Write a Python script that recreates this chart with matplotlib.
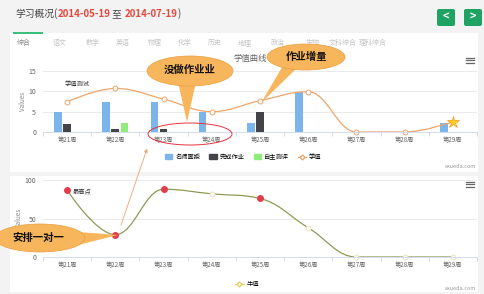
import numpy as np
import matplotlib
matplotlib.use("Agg")
import matplotlib.pyplot as plt
from matplotlib.patches import Rectangle, Ellipse, Polygon, FancyBboxPatch, PathPatch, FancyArrowPatch
from matplotlib.path import Path
from matplotlib.lines import Line2D

plt.rcParams['font.family'] = ['Noto Sans CJK SC', 'DejaVu Sans']

# data
weeks = ['第21周', '第22周', '第23周', '第24周', '第25周', '第26周', '第27周', '第28周', '第29周']
teach = [4.9, 7.4, 7.4, 5.0, 2.3, 9.8, 0, 0, 2.3]      # 名师面授
homework = [2.0, 0.7, 0.7, 0, 5.0, 0, 0, 0, 0]          # 完成作业
selftest = [0, 2.3, 0, 0, 0, 0, 0, 0, 0]                # 自主测评
score = [7.4, 10.7, 8.1, 5.0, 7.7, 9.9, 0, 0, 2.5]      # 学值
mastery = [87, 29, 88, 82, 76, 38, 0, 0, 0]             # 牛值
flagged = [True, True, True, False, True, False, False, False, False]
tabs = ['综合', '语文', '数学', '英语', '物理', '化学', '历史', '地理', '政治', '生物', '文科综合', '理科综合']
tab_x = [24, 60, 93, 123, 155, 185, 215, 245, 278, 313, 343, 373]

W, H = 485, 294


def spline_path(xs, ys):
    # highcharts style spline
    n = len(xs)
    sm, den = 1.5, 2.5
    lc = [None] * n
    rc = [None] * n
    for i in range(1, n - 1):
        px, py = xs[i], ys[i]
        lx, ly = xs[i - 1], ys[i - 1]
        nx, ny = xs[i + 1], ys[i + 1]
        lcx, lcy = (sm * px + lx) / den, (sm * py + ly) / den
        rcx, rcy = (sm * px + nx) / den, (sm * py + ny) / den
        corr = ((rcy - lcy) * (rcx - px)) / (rcx - lcx) + py - rcy
        lcy += corr
        rcy += corr
        if lcy > max(ly, py):
            lcy = max(ly, py); rcy = 2 * py - lcy
        elif lcy < min(ly, py):
            lcy = min(ly, py); rcy = 2 * py - lcy
        if rcy > max(py, ny):
            rcy = max(py, ny); lcy = 2 * py - rcy
        elif rcy < min(py, ny):
            rcy = min(py, ny); lcy = 2 * py - rcy
        lc[i] = (lcx, lcy)
        rc[i] = (rcx, rcy)
    rc[0] = (xs[0], ys[0])
    lc[-1] = (xs[-1], ys[-1])
    verts = [(xs[0], ys[0])]
    codes = [Path.MOVETO]
    for i in range(1, n):
        verts += [rc[i - 1], lc[i], (xs[i], ys[i])]
        codes += [Path.CURVE4] * 3
    return Path(verts, codes)


fig = plt.figure(figsize=(W / 100, H / 100), dpi=100)
fig.patch.set_facecolor('#f3f3f3')

# background layer in pixel coords
bg = fig.add_axes([0, 0, 1, 1], zorder=0)
bg.set_xlim(0, W); bg.set_ylim(H, 0); bg.axis('off')
bg.add_patch(Rectangle((10, 33), 468, 139, color='white', lw=0))
bg.add_patch(Rectangle((10, 176), 468, 116, color='white', lw=0))
bg.add_patch(Rectangle((13, 32), 30, 2, color='#3cbf7c', lw=0))
for t, x in zip(tabs, tab_x):
    bg.text(x, 43, t, ha='center', va='center', fontsize=5,
            color='#888888' if t == '综合' else '#c4c4c4')

# header
x0 = 15
parts = [('学习概况(', '#444444', 'normal'), ('2014-05-19', '#e5483c', 'bold'), (' 至 ', '#444444', 'normal'),
         ('2014-07-19', '#e5483c', 'bold'), (')', '#444444', 'normal')]
fig.canvas.draw()
r = fig.canvas.get_renderer()
for s, c, w in parts:
    t = bg.text(x0, 14, s, ha='left', va='center', fontsize=7, color=c, fontweight=w)
    x0 += t.get_window_extent(r).width

# nav buttons
for bx, s in [(437, '<'), (464, '>')]:
    bg.add_patch(FancyBboxPatch((bx, 9), 18, 17, boxstyle='round,pad=0,rounding_size=2',
                                color='#1fa363', lw=0))
    bg.text(bx + 9, 17, s, ha='center', va='center', fontsize=8, color='white', fontweight='bold')

# menu icons + watermark
for my in (60, 184):
    for k in range(3):
        bg.plot([466, 474], [my - 2.5 + 2.5 * k] * 2, color='#666666', lw=0.9)
bg.text(476, 167, 'exueda.com', ha='right', va='center', fontsize=4, color='#999999')
bg.text(476, 288, 'exueda.com', ha='right', va='center', fontsize=4, color='#999999')
bg.text(250, 58, '学值曲线', ha='center', va='center', fontsize=6, color='#666666')


def style_axis(ax, yt):
    ax.set_facecolor('none')
    ax.set_xlim(-0.5, 8.5)
    for s in ('top', 'right', 'left'):
        ax.spines[s].set_visible(False)
    ax.spines['bottom'].set_color('#ccd6eb')
    ax.spines['bottom'].set_linewidth(0.6)
    ax.set_yticks(yt)
    ax.grid(axis='y', color='#e6e6e6', lw=0.6)
    ax.set_axisbelow(True)
    ax.tick_params(axis='y', length=0, labelsize=5, labelcolor='#666666', pad=5)
    ax.set_xticks(np.arange(-0.5, 9, 1), minor=False)
    ax.set_xticklabels([])
    ax.tick_params(axis='x', length=3, color='#ccd6eb', width=0.6)
    ax.set_xticks(range(len(weeks)), minor=True)
    ax.set_xticklabels(weeks, minor=True)
    ax.tick_params(axis='x', which='minor', length=0, labelsize=4.5, labelcolor='#666666', pad=3)
    ax.set_ylabel('Values', fontsize=4.5, color='#888888', labelpad=1)


# top chart
ax1 = fig.add_axes([43 / W, 1 - 132 / H, 434 / W, 61 / H], zorder=1)
xs = np.arange(len(weeks))
ax1.bar(xs - 0.19, teach, width=0.16, color='#7cb5ec')
ax1.bar(xs, homework, width=0.16, color='#434348')
ax1.bar(xs + 0.19, selftest, width=0.16, color='#90ed7d')
ax1.add_patch(PathPatch(spline_path(list(xs), score), fill=False, ec='#efa56a', lw=0.9))
ax1.plot(xs[:-1], score[:-1], ls='none', marker='o', ms=3.5, mfc='white', mec='#efa56a', mew=0.7, clip_on=False)
ax1.plot(xs[-1], score[-1], ls='none', marker='*', ms=9, mfc='#ffd21f', mec='#f29a1c', mew=0.5, clip_on=False)
ax1.set_ylim(0, 15)
style_axis(ax1, [0, 5, 10, 15])
ax1.text(-0.05, 11.8, '学值测试', fontsize=4.5, color='#333333', va='center')
h1 = [Rectangle((0, 0), 1, 1, color='#7cb5ec'), Rectangle((0, 0), 1, 1, color='#434348'),
      Rectangle((0, 0), 1, 1, color='#90ed7d'),
      Line2D([], [], color='#efa56a', lw=0.8, marker='D', ms=2.5, mfc='white', mec='#efa56a')]
fig.legend(h1, ['名师面授', '完成作业', '自主测评', '学值'], loc='center', bbox_to_anchor=(243 / W, 1 - 157 / H),
           ncol=4, frameon=False, fontsize=4.5, handlelength=1.2, handleheight=0.8, columnspacing=1.4,
           handletextpad=0.5)

# bottom chart
ax2 = fig.add_axes([43 / W, 1 - 257 / H, 434 / W, 77 / H], zorder=1)
ax2.add_patch(PathPatch(spline_path(list(xs), mastery), fill=False, ec='#8f9a55', lw=0.9))
for i in range(len(weeks)):
    if flagged[i]:
        ax2.plot(i, mastery[i], marker='o', ms=4, mfc='#e23d4b', mec='#e23d4b', clip_on=False)
    else:
        ax2.plot(i, mastery[i], marker='o', ms=3.5, mfc='white', mec='#e8e4c0', mew=0.7, clip_on=False)
ax2.set_ylim(0, 100)
style_axis(ax2, [0, 50, 100])
ax2.text(0.12, 84, '最高点', fontsize=4.5, color='#333333', va='center')
h2 = [Line2D([], [], color='#e0d060', lw=0.8, marker='D', ms=2.5, mfc='white', mec='#e0d060')]
fig.legend(h2, ['牛值'], loc='center', bbox_to_anchor=(247 / W, 1 - 284 / H), frameon=False,
           fontsize=4.5, handlelength=1.5, handletextpad=0.4)

# callouts on top
ov = fig.add_axes([0, 0, 1, 1], zorder=5)
ov.set_xlim(0, W); ov.set_ylim(H, 0); ov.axis('off')
ov.patch.set_alpha(0)
org = '#f7b65c'
ov.add_patch(Ellipse((190, 134), 84, 22, fill=False, ec='#e8323c', lw=0.7))
ov.add_patch(FancyArrowPatch((120, 228), (148, 146), arrowstyle='-|>', mutation_scale=5,
                             color='#f2a266', lw=0.6))

ov.add_patch(Polygon([(178, 82), (196, 82), (187, 122)], color=org, lw=0))
ov.add_patch(Ellipse((190, 71), 86, 30, color=org, ec='#e9a040', lw=0.5))
ov.text(190, 70, '没做作业业', ha='center', va='center', fontsize=7.5, fontweight='bold', color='#111111')

ov.add_patch(Polygon([(284, 64), (298, 67), (261, 103)], color=org, lw=0))
ov.add_patch(Ellipse((306, 57), 78, 26, color=org, ec='#e9a040', lw=0.5))
ov.text(306, 57, '作业增量', ha='center', va='center', fontsize=7.5, fontweight='bold', color='#111111')

ov.add_patch(Polygon([(78, 232), (78, 245), (118, 235)], color=org, lw=0))
ov.add_patch(Ellipse((40, 238), 90, 28, color=org, ec='#e9a040', lw=0.5))
ov.text(38, 238, '安排一对一', ha='center', va='center', fontsize=7.5, fontweight='bold', color='#111111')

fig.savefig('out.png', dpi=100)
